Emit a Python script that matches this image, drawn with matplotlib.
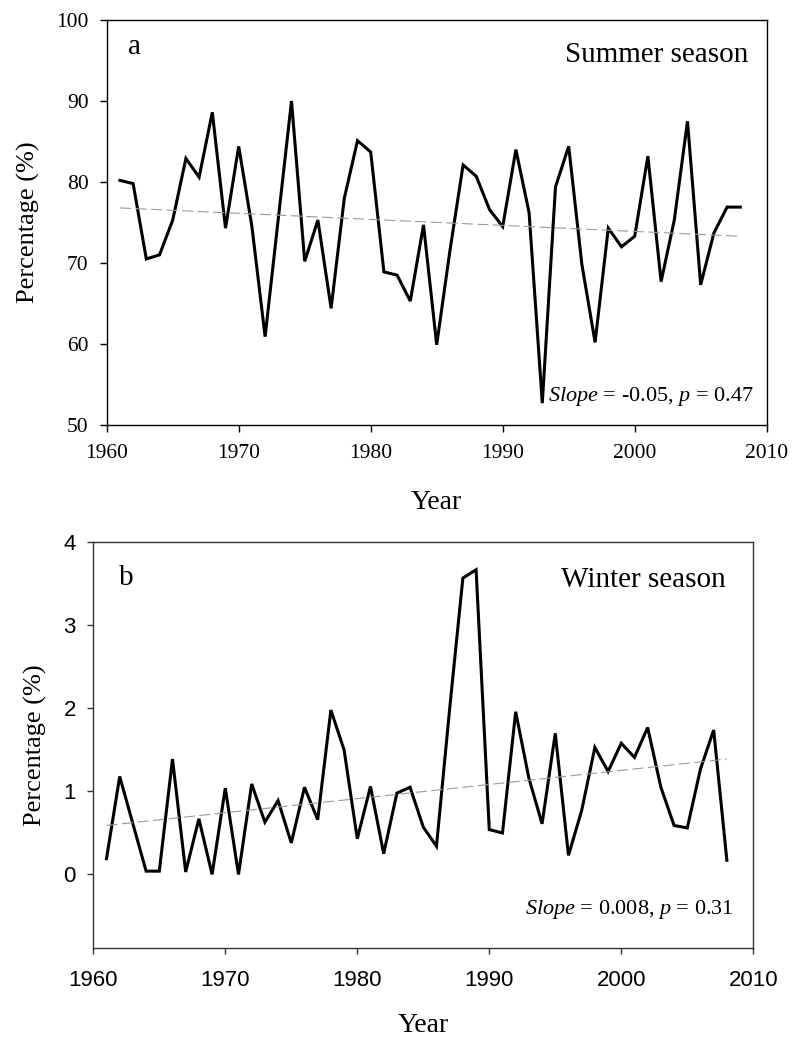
import numpy as np
import matplotlib
matplotlib.use("Agg")
import matplotlib.pyplot as plt

plt.rcParams["mathtext.fontset"] = "custom"
plt.rcParams["mathtext.rm"] = "Liberation Serif"
plt.rcParams["mathtext.it"] = "Liberation Serif:italic"

years = list(range(1961, 2009))

summer_pct = [80.2, 79.8, 70.5, 71.0, 75.3, 82.9, 80.6, 88.6, 74.3, 84.4,
              74.5, 60.9, 75.5, 90.0, 70.2, 75.3, 64.4, 78.0, 85.1, 83.7,
              68.9, 68.5, 65.3, 74.7, 59.9, 71.5, 82.1, 80.7, 76.6, 74.5,
              84.0, 76.2, 52.7, 79.4, 84.4, 69.8, 60.2, 74.3, 72.0, 73.3,
              83.2, 67.7, 75.3, 87.5, 67.3, 73.7, 76.9, 76.9]

winter_pct = [0.19, 1.18, 0.61, 0.04, 0.04, 1.39, 0.03, 0.67, 0.00, 1.04,
              0.00, 1.09, 0.63, 0.89, 0.38, 1.05, 0.66, 1.98, 1.50, 0.43,
              1.06, 0.25, 0.98, 1.05, 0.57, 0.34, 2.00, 3.57, 3.67, 0.54,
              0.50, 1.96, 1.16, 0.61, 1.70, 0.23, 0.77, 1.53, 1.24, 1.58,
              1.41, 1.77, 1.05, 0.59, 0.56, 1.27, 1.74, 0.17]

# trend line end values (1961, 2008)
trend_years = [1961, 2008]
summer_trend = [76.8, 73.3]
winter_trend = [0.59, 1.39]

summer_xticks = [1960, 1970, 1980, 1990, 2000, 2010]
summer_yticks = [50, 60, 70, 80, 90, 100]
winter_xticks = [1960, 1970, 1980, 1990, 2000, 2010]
winter_yticks = [0, 1, 2, 3, 4]

serif = ["Liberation Serif", "DejaVu Serif"]
sans = ["Liberation Sans", "DejaVu Sans"]

fig = plt.figure(figsize=(7.94, 10.37), dpi=100)
ax1 = fig.add_axes([0.1344, 0.5902, 0.8312, 0.3905])
ax2 = fig.add_axes([0.1175, 0.0855, 0.8312, 0.3915])

# --- Top panel ---
ax1.plot(years, summer_pct, color="black", lw=2.2, solid_joinstyle="miter")
ax1.plot(trend_years, summer_trend, color="#9a9a9a", lw=0.8, dashes=(10, 4))
ax1.set_xlim(1960, 2010)
ax1.set_ylim(50, 100)
ax1.set_xticks(summer_xticks)
ax1.set_yticks(summer_yticks)
ax1.set_xticklabels([str(v) for v in summer_xticks], family=serif, fontsize=15.5)
ax1.set_yticklabels([str(v) for v in summer_yticks], family=serif, fontsize=15.5)
ax1.tick_params(axis="both", direction="out", length=5, width=1, colors="black")
ax1.tick_params(axis="y", pad=8)
ax1.tick_params(axis="x", pad=9)
for s in ax1.spines.values():
    s.set_color("black")
    s.set_linewidth(1.0)
ax1.set_xlabel("Year", family=serif, fontsize=20, labelpad=19)
ax1.set_ylabel("Percentage (%)", family=serif, fontsize=19, labelpad=12)
ax1.text(0.042, 0.933, "a", transform=ax1.transAxes, family=serif, fontsize=21,
         ha="center", va="center")
ax1.text(0.973, 0.914, "Summer season", transform=ax1.transAxes, family=serif,
         fontsize=21, ha="right", va="center")
ax1.text(0.98, 0.07, r"$\it{Slope}$ = -0.05, $\it{p}$ = 0.47", transform=ax1.transAxes,
         family=serif, fontsize=16, ha="right", va="center")

# --- Bottom panel ---
ax2.plot(years, winter_pct, color="black", lw=2.2, solid_joinstyle="miter")
ax2.plot(trend_years, winter_trend, color="#9a9a9a", lw=0.8, dashes=(10, 4))
ax2.set_xlim(1960, 2010)
ax2.set_ylim(-0.89, 4)
ax2.set_xticks(winter_xticks)
ax2.set_yticks(winter_yticks)
ax2.set_xticklabels([str(v) for v in winter_xticks], family=sans, fontsize=16)
ax2.set_yticklabels([str(v) for v in winter_yticks], family=sans, fontsize=16)
ax2.tick_params(axis="both", direction="out", length=4.5, width=1, colors="#333333", labelcolor="black")
ax2.tick_params(axis="y", pad=8)
ax2.tick_params(axis="x", pad=11)
for s in ax2.spines.values():
    s.set_color("#333333")
    s.set_linewidth(1.0)
ax2.set_xlabel("Year", family=serif, fontsize=20, labelpad=16)
ax2.set_ylabel("Percentage (%)", family=serif, fontsize=19, labelpad=12)
ax2.text(0.05, 0.912, "b", transform=ax2.transAxes, family=serif, fontsize=21,
         ha="center", va="center")
ax2.text(0.958, 0.907, "Winter season", transform=ax2.transAxes, family=serif,
         fontsize=21, ha="right", va="center")
ax2.text(0.971, 0.095, r"$\it{Slope}$ = 0.008, $\it{p}$ = 0.31", transform=ax2.transAxes,
         family=serif, fontsize=16, ha="right", va="center")

fig.savefig("out.png", dpi=100)
